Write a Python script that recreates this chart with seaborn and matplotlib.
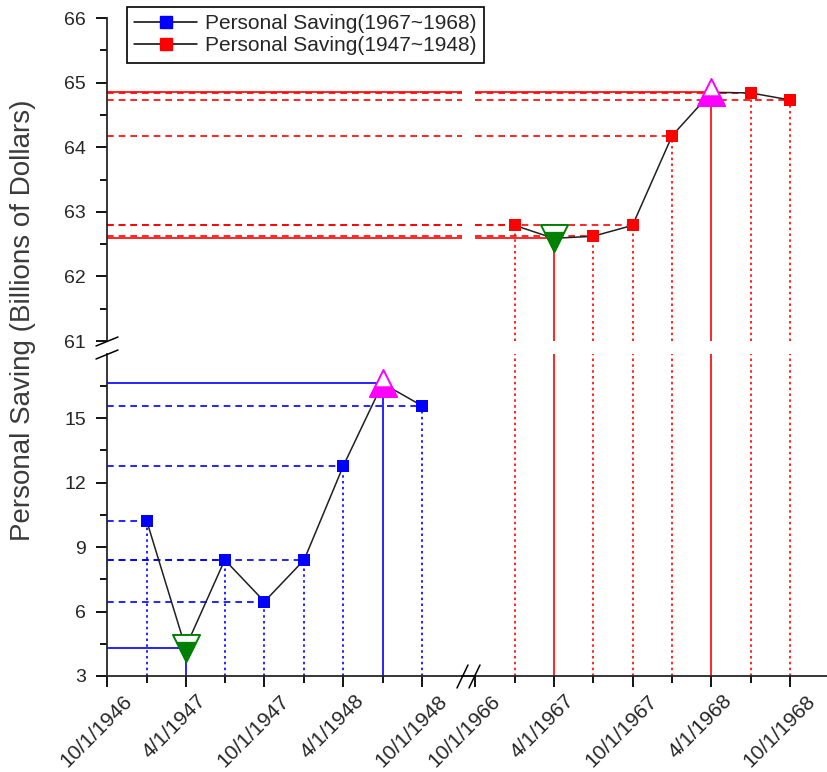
import numpy as np
import pandas as pd
import seaborn as sns
import matplotlib.pyplot as plt
from matplotlib.lines import Line2D
from matplotlib.path import Path
from matplotlib.markers import MarkerStyle
from matplotlib.transforms import ScaledTranslation

sns.set_style("ticks")
plt.rcParams['font.family'] = ['Liberation Sans', 'DejaVu Sans']

# quarterly personal saving, billions of dollars
dates_47 = ['1947-01-01', '1947-04-01', '1947-07-01', '1947-10-01',
            '1948-01-01', '1948-04-01', '1948-07-01', '1948-10-01']
saving_47 = [10.22, 4.32, 8.40, 6.46, 8.40, 12.78, 16.61, 15.56]

dates_67 = ['1967-01-01', '1967-04-01', '1967-07-01', '1967-10-01',
            '1968-01-01', '1968-04-01', '1968-07-01', '1968-10-01']
saving_67 = [62.79, 62.59, 62.62, 62.79, 64.18, 64.85, 64.84, 64.73]

legend_labels = ['Personal Saving(1967~1968)', 'Personal Saving(1947~1948)']
ylabel = 'Personal Saving (Billions of Dollars)'

ticks_47 = ['1946-10-01', '1947-04-01', '1947-10-01', '1948-04-01', '1948-10-01']
minor_47 = ['1947-01-01', '1947-07-01', '1948-01-01', '1948-07-01']
labels_47 = ['10/1/1946', '4/1/1947', '10/1/1947', '4/1/1948', '10/1/1948']
ticks_67 = ['1966-10-01', '1967-04-01', '1967-10-01', '1968-04-01', '1968-10-01']
minor_67 = ['1967-01-01', '1967-07-01', '1968-01-01', '1968-07-01']
labels_67 = ['10/1/1966', '4/1/1967', '10/1/1967', '4/1/1968', '10/1/1968']

low_ticks = [3, 6, 9, 12, 15]
low_minor = [4.5, 7.5, 10.5, 13.5, 16.5]
high_ticks = [61, 62, 63, 64, 65, 66]
high_minor = [61.5, 62.5, 63.5, 64.5, 65.5]

df47 = pd.DataFrame({'date': pd.to_datetime(dates_47), 'saving': saving_47})
df67 = pd.DataFrame({'date': pd.to_datetime(dates_67), 'saving': saving_67})

W, H = 828, 772
def fx(px):
    return px / W
def fy(py):
    return 1 - py / H

fig = plt.figure(figsize=(8.28, 7.72), dpi=100)
ax_tl = fig.add_axes([fx(107), fy(341), fx(355), 323 / H])
ax_tr = fig.add_axes([fx(475), fy(341), fx(353), 323 / H], sharey=ax_tl)
ax_bl = fig.add_axes([fx(107), fy(676), fx(355), 322.5 / H])
ax_br = fig.add_axes([fx(475), fy(676), fx(353), 322.5 / H], sharey=ax_bl, sharex=ax_tr)

xl_47 = (pd.Timestamp('1946-10-01'), pd.Timestamp('1949-01-01'))
xl_67 = (pd.Timestamp('1966-10-01'), pd.Timestamp('1968-12-27'))

hdash = (0, (4, 3))
vdot = (0, (1.5, 2))

# ---- lower-left: 1947~1948 (blue)
i_min, i_max = np.argmin(saving_47), np.argmax(saving_47)
for i, (d, v) in enumerate(zip(df47['date'], df47['saving'])):
    solid = i in (i_min, i_max)
    ax_bl.hlines(v, xl_47[0], d, color='blue', lw=1.2,
                 linestyle='-' if solid else hdash, zorder=1)
    ax_bl.vlines(d, 3, v, color='blue', lw=1.2,
                 linestyle='-' if solid else vdot, zorder=1)

# ---- upper-right: 1967~1968 (red), drop lines cross into the other panels
j_min, j_max = np.argmin(saving_67), np.argmax(saving_67)
for j, (d, v) in enumerate(zip(df67['date'], df67['saving'])):
    solid = j in (j_min, j_max)
    ax_tl.axhline(v, color='red', lw=1.2, linestyle='-' if solid else hdash, zorder=1)
    ax_tr.hlines(v, xl_67[0], d, color='red', lw=1.2,
                 linestyle='-' if solid else hdash, zorder=1)
    ax_tr.vlines(d, 61, v, color='red', lw=1.2,
                 linestyle='-' if solid else vdot, zorder=1)
    ax_br.axvline(d, color='red', lw=1.2, linestyle='-' if solid else vdot, zorder=1)

up_fill = MarkerStyle(Path([(-1, -1), (1, -1), (0.625, -0.25), (-0.625, -0.25), (-1, -1)]))
down_fill = MarkerStyle(Path([(-0.725, 0.45), (0.725, 0.45), (0, -1), (-0.725, 0.45)]))

for ax, df, imin, imax, col in [(ax_bl, df47, i_min, i_max, 'blue'),
                                (ax_tr, df67, j_min, j_max, 'red')]:
    sns.lineplot(data=df, x='date', y='saving', color='#202020', lw=1.1, ax=ax, zorder=3)
    rest = df.drop(index=[imin, imax])
    sns.scatterplot(data=rest, x='date', y='saving', marker='s', s=85,
                    color=col, edgecolor=col, linewidth=0, ax=ax, zorder=4)
    mx = df.iloc[[imax]]
    mn = df.iloc[[imin]]
    sns.scatterplot(data=mx, x='date', y='saving', marker='^', s=380,
                    color='white', edgecolor='magenta', linewidth=1.4, ax=ax, zorder=4)
    sns.scatterplot(data=mx, x='date', y='saving', marker=up_fill, s=380,
                    color='magenta', edgecolor='magenta', linewidth=0.8, ax=ax, zorder=5)
    sns.scatterplot(data=mn, x='date', y='saving', marker='v', s=380,
                    color='white', edgecolor='green', linewidth=1.4, ax=ax, zorder=4)
    sns.scatterplot(data=mn, x='date', y='saving', marker=down_fill, s=380,
                    color='green', edgecolor='green', linewidth=0.8, ax=ax, zorder=5)

# ---- axes styling
for ax in (ax_tl, ax_tr, ax_bl, ax_br):
    ax.set(xlabel='', ylabel='')
    ax.set_facecolor('none')
    for s in ('top', 'right'):
        ax.spines[s].set_visible(False)
    for s in ('left', 'bottom'):
        ax.spines[s].set_linewidth(1.3)
    ax.tick_params(which='major', length=8, width=1.3, labelsize=14, pad=7, color='black')
    ax.tick_params(which='minor', length=5, width=1.3, color='black')

ax_bl.set_xlim(*xl_47)
ax_br.set_xlim(*xl_67)
ax_tl.set_xlim(0, 1)
ax_tl.set_ylim(61, 66)
ax_bl.set_ylim(3, 18)

ax_tl.set_yticks(high_ticks)
ax_tl.set_yticks(high_minor, minor=True)
ax_bl.set_yticks(low_ticks)
ax_bl.set_yticks(low_minor, minor=True)

for ax in (ax_tl, ax_tr):
    ax.spines['bottom'].set_visible(False)
    ax.tick_params(axis='x', which='both', bottom=False, labelbottom=False)
for ax in (ax_tr, ax_br):
    ax.spines['left'].set_visible(False)
    ax.tick_params(axis='y', which='both', left=False, labelleft=False)

off = ScaledTranslation(-11 / 100, 0, fig.dpi_scale_trans)
for ax, tk, mn_tk, lb in [(ax_bl, ticks_47, minor_47, labels_47),
                          (ax_br, ticks_67, minor_67, labels_67)]:
    ax.set_xticks(pd.to_datetime(tk))
    ax.set_xticks(pd.to_datetime(mn_tk), minor=True)
    ax.set_xticklabels(lb, rotation=45, ha='center', fontsize=15)
    ax.tick_params(axis='x', which='major', pad=3)
    for t in ax.get_xticklabels():
        t.set_transform(t.get_transform() + off)

# ---- break marks
brk = dict(color='black', lw=1.1, transform=fig.transFigure)
fig.add_artist(Line2D([fx(96), fx(118)], [fy(346), fy(337)], **brk))
fig.add_artist(Line2D([fx(96), fx(118)], [fy(359), fy(350)], **brk))
fig.add_artist(Line2D([fx(462), fx(475)], [fy(676), fy(676)], color='black', lw=1.3,
                      transform=fig.transFigure))
fig.add_artist(Line2D([fx(457), fx(468)], [fy(688), fy(665)], **brk))
fig.add_artist(Line2D([fx(469), fx(480)], [fy(688), fy(665)], **brk))

# ---- legend and y label
handles = [Line2D([], [], color='black', lw=1.1, marker='s', markersize=9,
                  markerfacecolor='blue', markeredgecolor='blue'),
           Line2D([], [], color='black', lw=1.1, marker='s', markersize=9,
                  markerfacecolor='red', markeredgecolor='red')]
leg = fig.legend(handles, legend_labels, loc='upper left',
                 bbox_to_anchor=(fx(127), fy(7)), frameon=True, fancybox=False,
                 edgecolor='black', framealpha=1, fontsize=15, handlelength=3.0,
                 handletextpad=0.4, borderpad=0.35, labelspacing=0.15, borderaxespad=0)
leg.get_frame().set_linewidth(1.2)

fig.text(fx(23), fy(320), ylabel, rotation=90, ha='center', va='center',
         fontsize=20, color='#3a3a3a')

fig.savefig('out.png', dpi=100)
